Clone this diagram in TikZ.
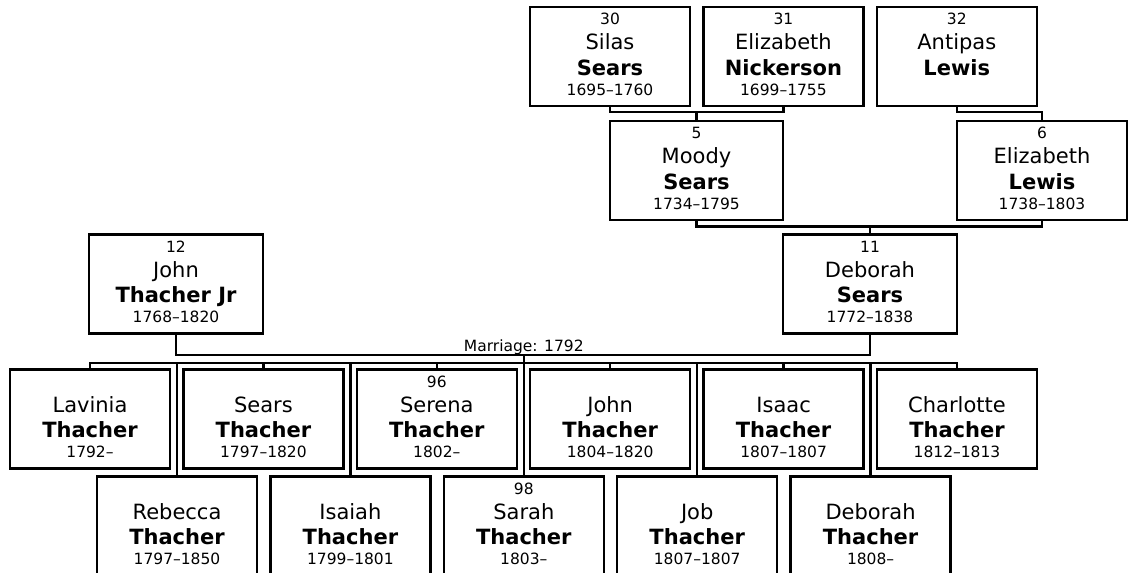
\documentclass[tikz,border=0pt]{standalone}
\usepackage{fontspec}
\setmainfont{DejaVu Sans}
\usetikzlibrary{positioning}

\tikzset{
  pbox/.style={draw, line width=2.4pt, minimum width=160pt, minimum height=99pt,
    inner sep=0, outer sep=0},
  small/.style={font=\fontsize{15.5}{18}\selectfont, anchor=base, inner sep=0},
  big/.style={font=\fontsize{21}{25}\selectfont, anchor=base, inner sep=0},
  link/.style={line width=2.4pt}
}

% one box: options, name, number, first name, surname, years
\newcommand\person[6][]{%
  \node[pbox,#1] (#2) {};
  \node[small] (#2-no) at ([yshift=-17.5pt]#2.north) {#3};
  \node[big] (#2-first) at ([yshift=-42.5pt]#2.north) {#4};
  \node[big,font=\fontsize{21}{25}\selectfont\bfseries] (#2-last)
    at ([yshift=-68pt]#2.north) {#5};
  \node[small] (#2-years) at ([yshift=-88pt]#2.north) {#6};
}

\begin{document}
\begin{tikzpicture}[x=1pt,y=1pt]
\useasboundingbox (0,0) rectangle (1128,-573);

% grandparents
\person[at={(610,-56.5)}]{silas}{30}{Silas}{Sears}{1695–1760}
\person[right=13.4pt of silas]{elizn}{31}{Elizabeth}{Nickerson}{1699–1755}
\person[right=13.4pt of elizn]{antipas}{32}{Antipas}{Lewis}{}

% parents of Deborah
\person[at={(696.5,-170.5)}, minimum width=173pt]{moody}{5}{Moody}{Sears}{1734–1795}
\person[at={(1042,-170.5)}, minimum width=170pt]{elizl}{6}{Elizabeth}{Lewis}{1738–1803}

% couple
\person[at={(176,-284)}, minimum width=174pt]{johnjr}{12}{John}{Thacher Jr}{1768–1820}
\person[at={(870,-284)}, minimum width=174pt]{deborah}{11}{Deborah}{Sears}{1772–1838}

% children, first row
\person[at={(90,-419)}]{lavinia}{}{Lavinia}{Thacher}{1792–}
\person[right=13.4pt of lavinia]{sears}{}{Sears}{Thacher}{1797–1820}
\person[right=13.4pt of sears]{serena}{96}{Serena}{Thacher}{1802–}
\person[right=13.4pt of serena]{johnt}{}{John}{Thacher}{1804–1820}
\person[right=13.4pt of johnt]{isaac}{}{Isaac}{Thacher}{1807–1807}
\person[right=13.4pt of isaac]{charlotte}{}{Charlotte}{Thacher}{1812–1813}

% children, second row
\person[at={(177,-526)}]{rebecca}{}{Rebecca}{Thacher}{1797–1850}
\person[right=13.4pt of rebecca]{isaiah}{}{Isaiah}{Thacher}{1799–1801}
\person[right=13.4pt of isaiah]{sarah}{98}{Sarah}{Thacher}{1803–}
\person[right=13.4pt of sarah]{job}{}{Job}{Thacher}{1807–1807}
\person[right=13.4pt of job]{deborahT}{}{Deborah}{Thacher}{1808–}

% lines
\draw[link] (silas.south) -- ++(0,-6) coordinate (p5) -| (elizn.south);
\draw[link] (moody) -- (moody |- p5);
\draw[link] (antipas.south) -- ++(0,-6) coordinate (p6) -| (elizl.north);
\draw[link] (moody.south) -- ++(0,-6.5) coordinate (p11) -| (elizl.south);
\draw[link] (deborah) -- (deborah |- p11);

\draw[link] (johnjr.south) -- ++(0,-21.5) coordinate (m) -| (deborah.south);
\node[small] (marriage) at ([yshift=3.5pt]sarah |- m) {Marriage: 1792};

\draw[link] (lavinia.north) -- ++(0,6.5) coordinate (c) -| (charlotte.north);
\foreach \k in {sears,serena,johnt,isaac}
  \draw[link] (\k) -- (\k |- c);
\foreach \k in {rebecca,isaiah,job,deborahT}
  \draw[link] (\k) -- (\k |- c);
\draw[link] (sarah) -- (sarah |- m);
\end{tikzpicture}
\end{document}
